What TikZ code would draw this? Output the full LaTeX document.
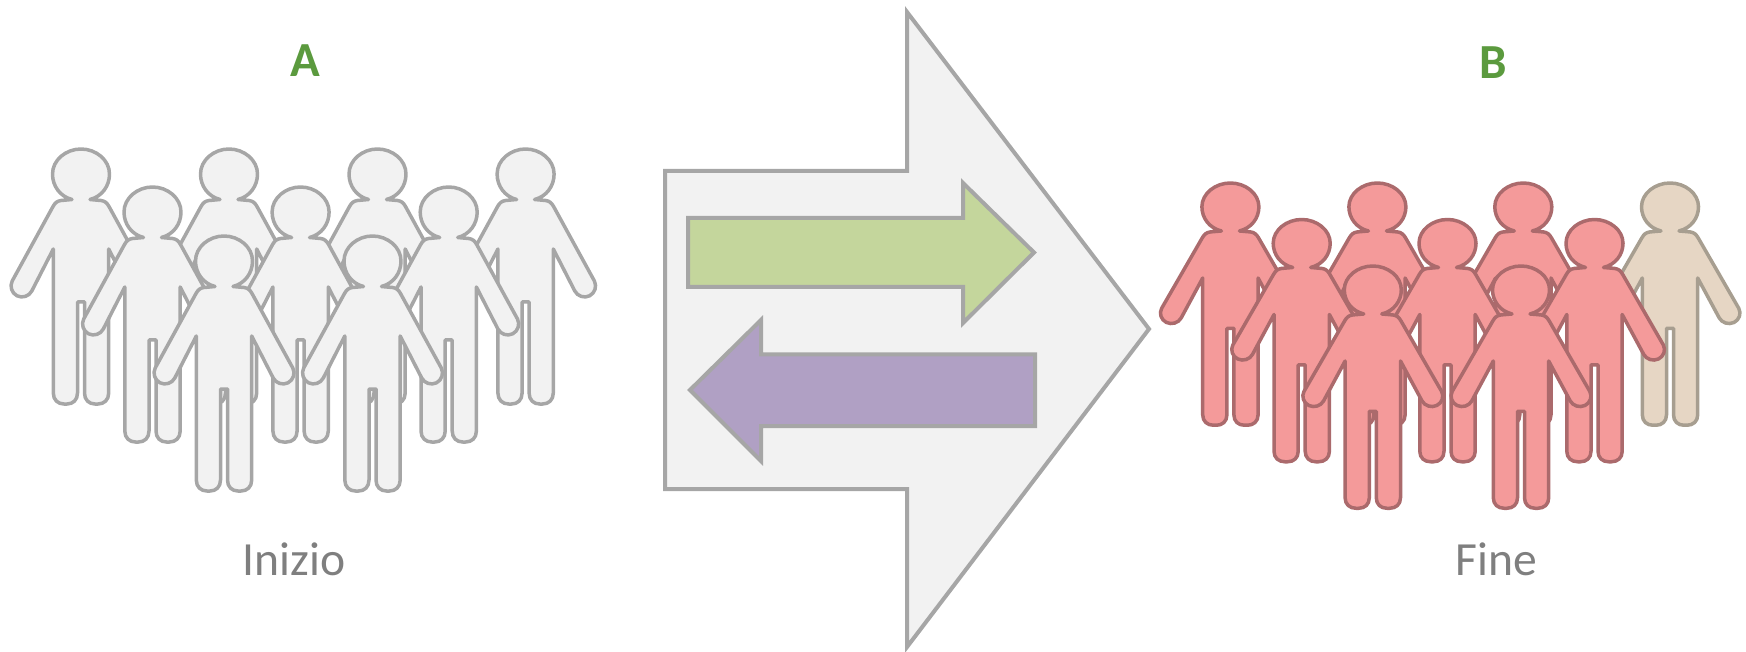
\documentclass[tikz,border=0pt]{standalone}
\usepackage{fontspec}
\setmainfont{Carlito}
\definecolor{pgray}{HTML}{F2F2F2}
\definecolor{lgray}{HTML}{A6A6A6}
\definecolor{pred}{HTML}{F49A9A}
\definecolor{lred}{HTML}{AB6A6C}
\definecolor{pbeige}{HTML}{E6D6C4}
\definecolor{lbeige}{HTML}{A79E90}
\definecolor{agreen}{HTML}{C4D69C}
\definecolor{apurple}{HTML}{B0A0C4}
\definecolor{tgreen}{HTML}{5B9A3E}
\definecolor{tgray}{HTML}{7F7F7F}
\tikzset{
  x=0.5pt,y=-0.5pt,
  personshape/.style={line width=1.75pt,line join=round},
  grayperson/.style={personshape,fill=pgray,draw=lgray},
  redperson/.style={personshape,fill=pred,draw=lred},
  beigeperson/.style={personshape,fill=pbeige,draw=lbeige},
  arrowshape/.style={line width=2pt,draw=lgray,line join=miter},
  heading/.style={font=\bfseries\fontsize{24.5}{28}\selectfont,text=tgreen,inner sep=0pt},
  caption/.style={font=\fontsize{23.8}{28}\selectfont,text=tgray,inner sep=0pt},
  pics/person/.style n args={2}{code={
    \path[#1,yscale=#2]
      (-9,50.5) .. controls (-21,47.5) and (-28.5,37) .. (-28.5,25)
      .. controls (-28.5,11) and (-15,0) .. (0,0)
      .. controls (15,0) and (28.5,11) .. (28.5,25)
      .. controls (28.5,37) and (21,47.5) .. (9,50.5)
      -- (20,51.5) .. controls (24,52) and (26,54) .. (28,57.5)
      -- (68.8,132) .. controls (71.5,137.3) and (69.3,144.1) .. (64,146.8)
      .. controls (58.7,149.5) and (51.9,147.3) .. (49.2,142)
      -- (27.7,100) -- (27.7,244)
      .. controls (27.7,251) and (23,255) .. (17,255)
      -- (14,255) .. controls (8,255) and (3.5,251) .. (3.5,244)
      -- (3.5,153) -- (-3.5,153) -- (-3.5,244)
      .. controls (-3.5,251) and (-8,255) .. (-14,255)
      -- (-17,255) .. controls (-23,255) and (-27.7,251) .. (-27.7,244)
      -- (-27.7,100) -- (-49.2,142)
      .. controls (-51.9,147.3) and (-58.7,149.5) .. (-64,146.8)
      .. controls (-69.3,144.1) and (-71.5,137.3) .. (-68.8,132)
      -- (-28,57.5) .. controls (-26,54) and (-24,52) .. (-20,51.5)
      -- cycle;
  }}
}
\begin{document}
\begin{tikzpicture}
\useasboundingbox (0,0) rectangle (1746,652);
% left group
\foreach \cx in {81,229,377.5,525.6} \pic at (\cx,149) {person={grayperson}{1}};
\foreach \cx in {152.5,300.6,448.7} \pic at (\cx,187) {person={grayperson}{1}};
\foreach \cx in {224,372.5} \pic at (\cx,236) {person={grayperson}{1}};
% right group
\pic at (1670,183) {person={beigeperson}{0.95}};
\foreach \cx in {1230.4,1377.4,1523.3} \pic at (\cx,183) {person={redperson}{0.95}};
\foreach \cx in {1301.7,1447.5,1594.5} \pic at (\cx,219.5) {person={redperson}{0.95}};
\foreach \cx in {1372.8,1521} \pic at (\cx,266) {person={redperson}{0.95}};
% big arrow
\path[arrowshape,fill=pgray] (665,171) -- (907,171) -- (907,12) -- (1149,329) -- (907,647) -- (907,489) -- (665,489) -- cycle;
% green arrow
\path[arrowshape,fill=agreen] (688,218) -- (963,218) -- (963,183) -- (1034,252.5) -- (963,323) -- (963,287) -- (688,287) -- cycle;
% purple arrow
\path[arrowshape,fill=apurple] (1035,354.5) -- (761,354.5) -- (761,320) -- (690,390) -- (761,461) -- (761,426) -- (1035,426) -- cycle;
% labels
\node[heading] (labelA) at (305,61) {A};
\node[heading] (labelB) at (1493,63) {B};
\node[caption] (inizio) at (294,559) {Inizio};
\node[caption] (fine) at (1496,559) {Fine};
\end{tikzpicture}
\end{document}
